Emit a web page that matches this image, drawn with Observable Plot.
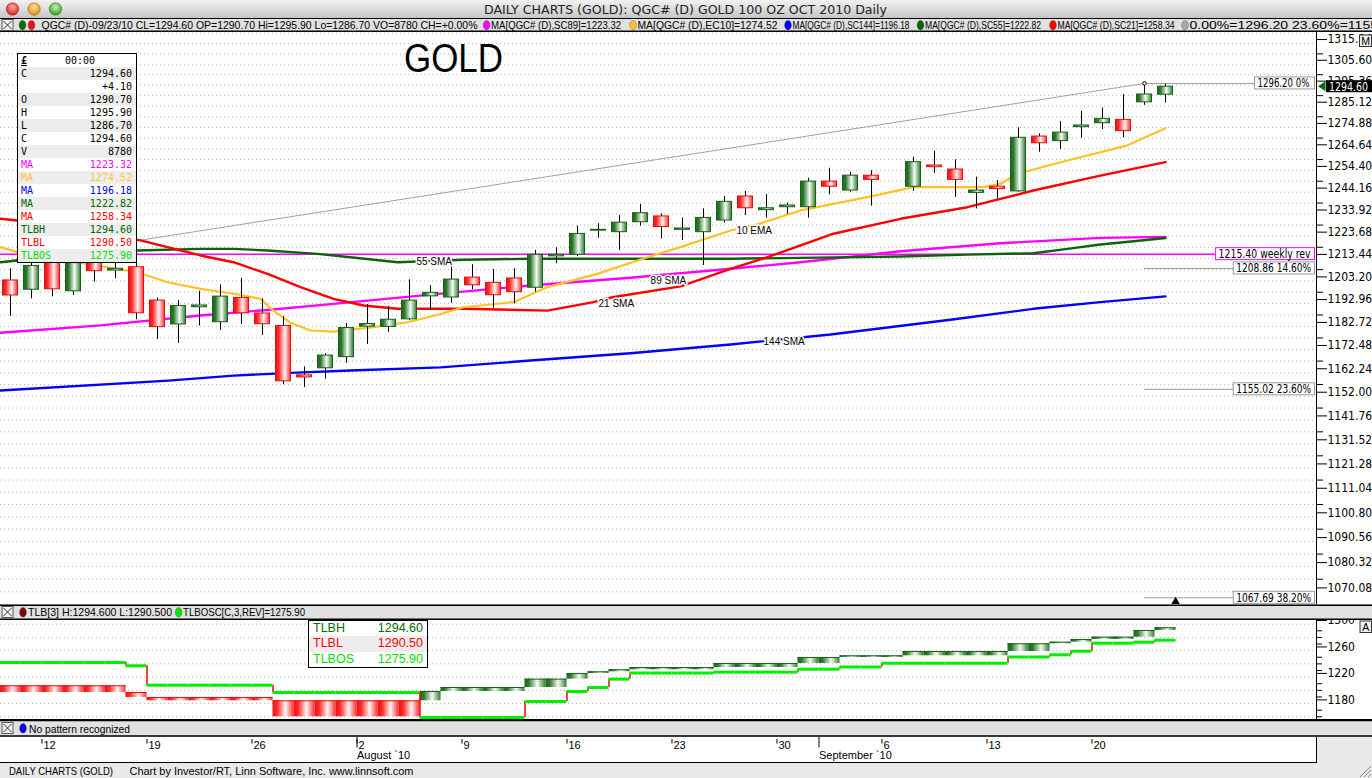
<!DOCTYPE html>
<html>
<head>
<meta charset="utf-8">
<title>DAILY CHARTS (GOLD)</title>
<script src="https://cdn.jsdelivr.net/npm/d3@7"></script>
<script src="https://cdn.jsdelivr.net/npm/@observablehq/plot@0.6"></script>
<style>
html,body{margin:0;padding:0}
body{width:1372px;height:778px;position:relative;overflow:hidden;background:#e9e9e9;font-family:"Liberation Sans",Arial,sans-serif}
.abs{position:absolute;left:0}
.abs svg{display:block}
#databox{position:absolute;left:17px;top:53px;width:118px;border:1px solid #000;background:#fff;font-family:"DejaVu Sans Mono",monospace;font-size:10px;color:#000}
#databox .r{position:relative;height:13px;line-height:13px;white-space:nowrap}
#databox .g{background:#ededed}
#databox .l{position:absolute;left:3px}
#databox .v{position:absolute;right:4px}
#tlbbox{position:absolute;left:308px;top:620px;width:118px;border:1px solid #000;background:#fff;font-family:"Liberation Sans",Arial,sans-serif;font-size:12.5px}
#tlbbox .r{position:relative;height:15.4px;line-height:15.4px}
#tlbbox .g{background:#ededed}
#tlbbox .l{position:absolute;left:4px}
#tlbbox .v{position:absolute;right:4px}
</style>
</head>
<body>
<div id="main" class="abs" style="top:31px"></div>
<div id="tlb" class="abs" style="top:619px"></div>
<div id="dates" class="abs" style="top:737px"></div>
<div id="chrome" class="abs" style="top:0"></div>
<div id="databox"></div>
<div id="tlbbox"></div>
<script>
// ================= DATA =================
const dates = ["07/08","07/09","07/12","07/13","07/14","07/15","07/16","07/19","07/20","07/21","07/22","07/23","07/26","07/27","07/28","07/29","07/30","08/02","08/03","08/04","08/05","08/06","08/09","08/10","08/11","08/12","08/13","08/16","08/17","08/18","08/19","08/20","08/23","08/24","08/25","08/26","08/27","08/30","08/31","09/01","09/02","09/03","09/06","09/07","09/08","09/09","09/10","09/13","09/14","09/15","09/16","09/17","09/20","09/21","09/22","09/23"];
const open  = [1203.4,1199.2,1215.0,1198.5,1216.0,1207.9,1209.4,1194.3,1183.6,1191.3,1184.6,1195.5,1188.5,1182.9,1161.1,1164.2,1169.1,1182.6,1182.5,1185.9,1196.2,1195.7,1204.7,1202.3,1204.3,1200.1,1214.4,1215.1,1226.2,1225.5,1230.1,1232.8,1226.6,1225.5,1230.9,1242.1,1235.7,1237.1,1237.1,1249.1,1244.9,1251.9,null,1246.7,1256.7,1254.8,1243.8,1246.7,1244.5,1270.5,1268.3,1275.0,1276.9,1278.5,1287.0,1290.7];
const high  = [1208.7,1213.0,1218.0,1216.0,1219.0,1213.0,1212.0,1195.4,1194.3,1198.5,1201.4,1204.4,1195.1,1187.1,1164.8,1170.6,1184.1,1192.5,1191.6,1203.7,1201.1,1212.5,1210.6,1208.4,1208.7,1217.1,1218.3,1228.3,1229.4,1233.2,1238.4,1234.0,1232.1,1236.3,1242.1,1244.5,1243.0,1239.0,1250.7,1255.4,1253.5,1254.3,null,1260.7,1263.5,1259.4,1251.2,1249.6,1274.7,1271.8,1277.7,1282.6,1284.2,1290.8,1296.2,1295.9];
const low   = [1187.2,1195.1,1196.0,1196.6,1202.6,1204.2,1185.7,1176.9,1175.2,1182.9,1180.9,1183.6,1178.7,1157.0,1155.8,1159.4,1166.4,1174.7,1180.1,1185.4,1189.8,1193.1,1199.2,1190.9,1192.8,1198.1,1211.0,1214.3,1222.7,1217.1,1228.3,1222.4,1221.7,1210.2,1229.7,1233.2,1232.0,1233.7,1232.0,1242.9,1244.1,1237.6,null,1244.5,1253.0,1241.7,1236.3,1241.0,1244.1,1263.0,1264.3,1269.7,1273.9,1269.9,1285.5,1286.7];
const close = [1196.6,1210.0,1199.4,1211.3,1207.6,1208.7,1188.6,1182.4,1191.9,1192.1,1196.1,1188.6,1183.7,1158.5,1160.2,1169.8,1182.0,1183.8,1185.7,1194.3,1197.8,1203.8,1201.2,1196.7,1198.1,1215.1,1215.1,1224.7,1226.6,1229.9,1234.3,1227.9,1227.2,1232.1,1239.6,1236.6,1236.6,1237.9,1249.1,1246.7,1251.9,1249.9,null,1258.3,1255.9,1249.9,1244.9,1245.6,1269.9,1267.3,1272.4,1275.8,1279.0,1273.1,1290.8,1294.6];

// moving averages: [slot index, value]
const sma21  = [[-0.48,1231.7],[1.10,1230.1],[4.29,1224.8],[6.19,1221.7],[9.05,1214.8],[10.62,1211.7],[12.24,1206.4],[13.81,1200.4],[15.38,1195.1],[16.81,1192.1],[18.43,1190.6],[21.57,1190.6],[25.57,1189.8],[27.76,1193.6],[28.67,1195.8],[31.90,1200.7],[34.29,1208.7],[36.05,1214.0],[39.19,1224.8],[42.38,1231.7],[45.57,1237.1],[48.71,1244.9],[51.90,1251.9],[55,1258.34]];
const ema10  = [[-0.48,1218.6],[0.33,1216.3],[6.05,1207.1],[7.48,1202.6],[9.05,1199.6],[10.62,1197.4],[11.90,1195.1],[12.52,1189.8],[13.33,1184.4],[14.29,1180.9],[15.38,1180.4],[17.29,1182.4],[18.90,1184.6],[20.48,1188.3],[21.57,1191.3],[23.95,1193.6],[25.57,1200.4],[27.95,1206.4],[30.33,1214.0],[31.90,1218.6],[34.29,1226.3],[35.57,1229.1],[37.62,1235.6],[40.81,1241.8],[43.0,1246.5],[46.33,1246.5],[47.14,1248.0],[47.95,1252.8],[50.33,1259.1],[53.19,1266.3],[55,1274.52]];
const sma89  = [[-0.48,1179.9],[4.29,1183.2],[9.05,1187.6],[12.24,1190.1],[15.38,1192.8],[20.0,1197.0],[24.76,1201.1],[29.52,1204.6],[34.29,1208.7],[37.62,1211.7],[42.38,1216.7],[47.14,1220.4],[51.90,1222.9],[55,1223.32]];
const sma55  = [[-0.48,1211.7],[0.33,1212.5],[6.05,1217.1],[9.05,1217.8],[10.62,1217.8],[12.24,1217.1],[14.62,1215.5],[16.19,1214.0],[18.43,1211.7],[21.57,1212.8],[24.76,1213.3],[34.29,1213.3],[37.62,1213.7],[42.38,1214.3],[45.57,1215.2],[48.71,1215.8],[50.33,1217.8],[51.90,1219.8],[53.48,1221.3],[55,1222.82]];
const sma144 = [[-0.48,1154.5],[7.52,1158.8],[10.62,1161.0],[13.33,1162.2],[16.19,1163.2],[20.48,1164.6],[24.76,1167.6],[29.52,1170.8],[34.29,1174.7],[39.05,1179.1],[44.76,1185.7],[48.71,1190.6],[51.90,1193.6],[55,1196.18]];
const trendLine = [[-0.48,1211.8],[54,1296.2]];
const weeklyRev = 1215.40;
const fibLevels = [1296.20,1208.86,1155.02,1067.69];
const fibPct    = ["0%","14.60%","23.60%","38.20%"];
const maLabels  = [
  {t:"10 EMA", i:34.57, v:1226.3},
  {t:"55 SMA", i:19.33, v:1212.0},
  {t:"89 SMA", i:30.48, v:1203.4},
  {t:"21 SMA", i:28.0,  v:1192.8},
  {t:"144 SMA", i:35.86, v:1176.0}
];

// Three Line Break bricks
const tlbStart = [0,6,7,13,20,21,25,27,28,29,30,34,38,40,43,48,50,51,52,54,55];
const tlbEnd   = [5,6,12,19,20,24,26,27,28,29,33,37,39,42,47,49,50,51,53,54,55];
const tlbFrom  = [1206.9,1196.7,1189.2,1184.2,1184.2,1198.3,1204.3,1216.9,1225.5,1228.0,1231.1,1234.5,1240.6,1249.7,1252.2,1258.7,1270.4,1272.8,1276.9,1280.4,1290.5];
const tlbTo    = [1196.7,1189.2,1184.2,1160.0,1198.3,1204.3,1216.9,1225.5,1228.0,1231.1,1234.5,1240.6,1249.7,1252.2,1258.7,1270.4,1272.8,1276.9,1280.4,1290.5,1294.6];
const tlbos    = [1242.1,1242.1,1242.1,1242.1,1242.1,1242.1,1237.1,1207.8,1207.8,1207.8,1207.8,1207.8,1207.8,1196.7,1196.7,1196.7,1196.7,1196.7,1196.7,1196.7,1158.9,1158.9,1158.9,1158.9,1158.9,1183.1,1183.1,1198.3,1204.3,1216.9,1226.2,1226.2,1226.2,1226.2,1227.5,1227.5,1227.5,1227.5,1232.0,1232.0,1235.3,1235.3,1241.0,1241.0,1241.0,1241.0,1241.0,1241.0,1250.4,1250.4,1253.7,1259.2,1271.3,1271.3,1272.8,1275.9];

// axes
const yTicks = [1070.08,1080.32,1090.56,1100.80,1111.04,1121.28,1131.52,1141.76,1152.00,1162.24,1172.48,1182.72,1192.96,1203.20,1213.44,1223.68,1233.92,1244.16,1254.40,1264.64,1274.88,1285.12,1295.36,1305.60,1315.84];
const tlbTicks = [1180,1220,1260,1300];
const tlbGrid  = [1160,1180,1200,1220,1240,1260,1280,1300];
const tlbMinor = [1160,1170,1190,1200,1210,1230,1240,1250,1270,1280,1290];
const weekTickIdx    = [2,7,12,17,22,27,32,37,42,47,52];
const weekTickLabels = ["12","19","26","2","9","16","23","30","6","13","20"];
const monthTickIdx   = [17,39];
const monthLabels    = ["August `10","September `10"];

// info panels
const boxLabels = ["C","","O","H","L","C","V","MA","MA","MA","MA","MA","TLBH","TLBL","TLBOS"];
const boxValues = ["1294.60","+4.10","1290.70","1295.90","1286.70","1294.60","8780","1223.32","1274.52","1196.18","1222.82","1258.34","1294.60","1290.50","1275.90"];
const boxColors = ["#000","#000","#000","#000","#000","#000","#000","#ff00ff","#ffc43a","#0000ff","#006400","#ff0000","#006400","#ff0000","#00e000"];
const tlbLabels = ["TLBH","TLBL","TLBOS"];
const tlbValues = ["1294.60","1290.50","1275.90"];
const tlbColors = ["#007000","#ff0000","#00e000"];
const lastPrice = 1294.60;

// ================= BUILD =================
const xDomain = [-0.4762, 62.1905];
const FONT = '"Liberation Sans Narrow","DejaVu Sans Condensed","Liberation Sans",Arial,sans-serif';
const NS = "http://www.w3.org/2000/svg";

function addGrad(svgEl, id, stops){
  let defs = svgEl.querySelector("defs");
  if(!defs){ defs = document.createElementNS(NS,"defs"); svgEl.insertBefore(defs, svgEl.firstChild); }
  const g = document.createElementNS(NS,"linearGradient");
  g.setAttribute("id",id); g.setAttribute("x1","0"); g.setAttribute("y1","0"); g.setAttribute("x2","1"); g.setAttribute("y2","0");
  for(const [o,c] of stops){ const s=document.createElementNS(NS,"stop"); s.setAttribute("offset",o); s.setAttribute("stop-color",c); g.appendChild(s); }
  defs.appendChild(g);
}
const redStops   = [[0,"#e41616"],[0.22,"#ff2a2a"],[0.62,"#fff4f4"],[1,"#ff3030"]];
const greenStops = [[0,"#1c661c"],[0.2,"#2b7a2b"],[0.6,"#f6fbf6"],[1,"#2f7f2f"]];

const candles = [];
open.forEach((o,i)=>{ if(o!=null) candles.push({i, date:dates[i], o, h:high[i], l:low[i], c:close[i]}); });
const upC = candles.filter(d=>d.c>=d.o), dnC = candles.filter(d=>d.c<d.o);
const HB = 0.357;
const minorTicks = yTicks.map(t=>+(t+5.12).toFixed(2));
const gridVals = yTicks.concat(minorTicks);
const P = a => a.map(([x,y])=>({x,y}));

const main = Plot.plot({
  width:1372, height:573, marginLeft:0, marginRight:56, marginTop:0, marginBottom:0,
  x:{domain:xDomain, axis:null},
  y:{type:"log", domain:[1065.0,1321.83], axis:null},
  style:{fontFamily:FONT, fontSize:"12px", background:"#fff", color:"#000"},
  marks:[
    Plot.ruleY(gridVals,{stroke:"#b4b4b4", strokeDasharray:"1,3"}),
    Plot.line(P(trendLine),{x:"x", y:"y", stroke:"#a0a0a0", strokeWidth:1}),
    Plot.ruleY([weeklyRev],{x1:xDomain[0], x2:57.41, stroke:"#ff00ff", strokeWidth:1.5}),
    Plot.ruleY(fibLevels,{x1:54, x2:(d,k)=> k===0 ? 59.26 : 58.25, stroke:"#9a9a9a", strokeWidth:1}),
    Plot.line(P(sma144),{x:"x", y:"y", stroke:"#0000ff", strokeWidth:2.4}),
    Plot.line(P(sma89), {x:"x", y:"y", stroke:"#ff00ff", strokeWidth:2.4}),
    Plot.line(P(sma55), {x:"x", y:"y", stroke:"#0a640a", strokeWidth:2.4}),
    Plot.line(P(sma21), {x:"x", y:"y", stroke:"#ff0000", strokeWidth:2.4}),
    Plot.line(P(ema10), {x:"x", y:"y", stroke:"#ffc125", strokeWidth:2.2}),
    Plot.ruleX(candles,{x:"i", y1:"l", y2:"h", stroke:"#000", strokeWidth:1}),
    Plot.rect(upC,{x1:d=>d.i-HB, x2:d=>d.i+HB, y1:"o", y2:"c", fill:"url(#gUp)", stroke:"#1c5e1c", strokeWidth:1}),
    Plot.rect(dnC,{x1:d=>d.i-HB, x2:d=>d.i+HB, y1:"o", y2:"c", fill:"url(#gDn)", stroke:"#e01010", strokeWidth:1}),
    Plot.dot([{i:54, v:1296.2}],{x:"i", y:"v", r:1.8, stroke:"#000", fill:"#fff", strokeWidth:1}),
    Plot.dot([{i:55.48, v:1065.9}],{x:"i", y:"v", symbol:"triangle", r:3.6, fill:"#000"}),
    Plot.text(maLabels,{x:"i", y:"v", text:"t", textAnchor:"start", fontSize:10, fontFamily:"Liberation Sans, Arial, sans-serif", fill:"#000", stroke:"#fff", strokeWidth:3}),
    Plot.axisY({anchor:"right", ticks:yTicks, tickSize:10, tickPadding:1, tickFormat:d=>d.toFixed(2), dy:-4}),
    Plot.axisY({anchor:"right", ticks:minorTicks.filter(t=>t<1320), tickSize:6, tickFormat:()=>""}),
    Plot.ruleX([xDomain[1]],{stroke:"#000", strokeWidth:1})
  ]
});
addGrad(main,"gUp",greenStops); addGrad(main,"gDn",redStops);
document.getElementById("main").appendChild(main);

// tag boxes on the price pane, positioned through the plot's scales
(function(){
  const sx = main.scale("x"), sy = main.scale("y");
  const svg = d3.select(main);
  const xr = sx.apply(xDomain[1]);
  function tag(val, label, left, stroke, len){
    const y = sy.apply(val);
    const g = svg.append("g").attr("text-anchor","start");
    g.append("rect").attr("x",left).attr("y",y-6).attr("width",xr-1.5-left).attr("height",12).attr("fill","#fff").attr("stroke",stroke).attr("stroke-width",1);
    g.append("text").attr("x",left+3).attr("y",y+4.2).attr("text-anchor","start").attr("font-size",11.5).attr("font-family",FONT).attr("textLength",len).attr("lengthAdjust","spacingAndGlyphs").text(label);
  }
  tag(fibLevels[0], fibLevels[0].toFixed(2)+" "+fibPct[0], sx.apply(59.26), "#9a9a9a", 52);
  tag(weeklyRev, weeklyRev.toFixed(2)+" weekly rev", sx.apply(57.41), "#ff00ff", 92);
  for(let k=1;k<fibLevels.length;k++) tag(fibLevels[k], fibLevels[k].toFixed(2)+" "+fibPct[k], sx.apply(58.25), "#9a9a9a", 75);
  // last price tag on the axis
  const yp = sy.apply(lastPrice);
  svg.append("polygon").attr("points",`${xr+2},${yp} ${xr+9.5},${yp-5} ${xr+9.5},${yp+5}`).attr("fill","#0c6a0c");
  svg.append("rect").attr("x",xr+10).attr("y",yp-6).attr("width",46).attr("height",12).attr("fill","#000");
  svg.append("text").attr("x",xr+13).attr("y",yp+4.3).attr("text-anchor","start").attr("fill","#fff").attr("font-size",12).attr("font-family",FONT).attr("textLength",39).attr("lengthAdjust","spacingAndGlyphs").text(lastPrice.toFixed(2));
})();

// ---------- TLB pane ----------
const tlbDays = [];
tlbStart.forEach((s,k)=>{ for(let i=s;i<=tlbEnd[k];i++) tlbDays.push({i, from:tlbFrom[k], to:tlbTo[k], up:tlbTo[k]>tlbFrom[k]}); });
const tlbosDays = tlbos.map((v,i)=>({i,v}));
const tlbosSteps = tlbos.map((v,i)=>({i, a: i ? tlbos[i-1] : v, b: v})).filter(d=>d.a!==d.b);

const tlb = Plot.plot({
  width:1372, height:100, marginLeft:0, marginRight:56, marginTop:0, marginBottom:0,
  x:{domain:xDomain, axis:null},
  y:{domain:[1155.9,1307.1], axis:null},
  style:{fontFamily:FONT, fontSize:"12px", background:"#fff", color:"#000"},
  marks:[
    Plot.ruleY(tlbGrid,{stroke:"#b4b4b4", strokeDasharray:"1,3"}),
    Plot.rect(tlbDays.filter(d=>!d.up),{x1:d=>d.i-0.5, x2:d=>d.i+0.5, y1:"from", y2:"to", fill:"url(#tDn)"}),
    Plot.rect(tlbDays.filter(d=>d.up),{x1:d=>d.i-0.5, x2:d=>d.i+0.5, y1:"from", y2:"to", fill:"url(#tUp)"}),
    Plot.ruleY(tlbDays.filter(d=>!d.up),{y:"from", x1:d=>d.i-0.5, x2:d=>d.i+0.5, stroke:"#e01010", strokeWidth:1}),
    Plot.ruleY(tlbDays.filter(d=>d.up),{y:"to", x1:d=>d.i-0.5, x2:d=>d.i+0.5, stroke:"#1c5e1c", strokeWidth:1}),
    Plot.ruleX(tlbosSteps,{x:d=>d.i-0.5, y1:"a", y2:"b", stroke:"#ff0000", strokeWidth:1.5}),
    Plot.ruleY(tlbosDays,{y:"v", x1:d=>d.i-0.5, x2:d=>d.i+0.5, stroke:"#00ee00", strokeWidth:3}),
    Plot.axisY({anchor:"right", ticks:tlbTicks, tickSize:10, tickPadding:1, tickFormat:d=>String(d), dy:-3.7}),
    Plot.axisY({anchor:"right", ticks:tlbMinor, tickSize:5, tickFormat:()=>""}),
    Plot.ruleX([xDomain[1]],{stroke:"#000", strokeWidth:1})
  ]
});
addGrad(tlb,"tUp",greenStops); addGrad(tlb,"tDn",redStops);
document.getElementById("tlb").appendChild(tlb);

// ---------- date axis ----------
const dateAxis = Plot.plot({
  width:1316, height:25, margin:0,
  x:{domain:xDomain, axis:null},
  y:{domain:[0,25], range:[0,25], axis:null},
  style:{fontFamily:"Liberation Sans, Arial, sans-serif", fontSize:"11px", background:"#fff", color:"#000"},
  marks:[
    Plot.ruleX(weekTickIdx,{x:d=>d-0.5, y1:2, y2:6.5, stroke:"#000"}),
    Plot.text(weekTickIdx,{x:d=>d-0.5, y:11.5, text:(d,k)=>weekTickLabels[k], textAnchor:"start", lineAnchor:"bottom", dx:1.5}),
    Plot.ruleX(monthTickIdx,{x:d=>d-0.5, y1:0, y2:10.5, stroke:"#000"}),
    Plot.text(monthTickIdx,{x:d=>d-0.5, y:21.5, text:(d,k)=>monthLabels[k], textAnchor:"start", lineAnchor:"bottom", dx:0})
  ]
});
dateAxis.style.borderRight = "1.5px solid #000";
dateAxis.style.borderBottom = "1.5px solid #000";
dateAxis.style.boxSizing = "content-box";
document.getElementById("dates").appendChild(dateAxis);

// ---------- window chrome ----------
function T(x,y,s,o={}){
  const len = o.len ? ` textLength="${o.len}" lengthAdjust="spacingAndGlyphs"` : "";
  return `<text x="${x}" y="${y}" font-size="${o.size||10.5}" fill="${o.fill||'#000'}" font-family="${o.font||'Liberation Sans, Arial, sans-serif'}"${o.anchor?` text-anchor="${o.anchor}"`:""}${len}>${s}</text>`;
}
function xbox(y){ return `<rect x="2" y="${y}" width="11" height="11" fill="#f2f2f2" stroke="#555"/><path d="M3.5 ${y+1.5} L11.5 ${y+9.5} M11.5 ${y+1.5} L3.5 ${y+9.5}" stroke="#333" stroke-width="1"/>`; }
function dot(x,y,c){ return `<ellipse cx="${x}" cy="${y}" rx="3.4" ry="4.8" fill="${c}" stroke="rgba(0,0,0,0.35)" stroke-width="0.6"/>`; }
const legendItems = [
  {dot:"#ff00ff", x:486.6, text:"MA[QGC# (D),SC89]=1223.32", len:130},
  {dot:"#ffc125", x:633, text:"MA[QGC# (D),EC10]=1274.52", len:140},
  {dot:"#0000ff", x:788, text:"MA[QGC# (D),SC144]=1196.18", len:117},
  {dot:"#0a640a", x:920.5, text:"MA[QGC# (D),SC55]=1222.82", len:116},
  {dot:"#ff0000", x:1053, text:"MA[QGC# (D),SC21]=1258.34", len:117},
  {dot:"#a8a8a8", x:1185, text:"0.00%=1296.20 23.60%=1155.02", len:208}
];
let ch = `<svg xmlns="${NS}" width="1372" height="778" style="position:absolute;left:0;top:0">
<defs><linearGradient id="tbg" x1="0" y1="0" x2="0" y2="1"><stop offset="0" stop-color="#f2f2f2"/><stop offset="1" stop-color="#c6c6c6"/></linearGradient>
<radialGradient id="lr" cx="0.5" cy="0.35" r="0.6"><stop offset="0" stop-color="#ffb3a8"/><stop offset="1" stop-color="#d9261c"/></radialGradient>
<radialGradient id="ly" cx="0.5" cy="0.35" r="0.6"><stop offset="0" stop-color="#ffe2a0"/><stop offset="1" stop-color="#e2901a"/></radialGradient>
<radialGradient id="lg" cx="0.5" cy="0.35" r="0.6"><stop offset="0" stop-color="#c9f5b0"/><stop offset="1" stop-color="#3aa12a"/></radialGradient>
<clipPath id="tbclip"><rect x="0" y="18" width="1372" height="14"/></clipPath></defs>
<rect x="0" y="0" width="1372" height="18" fill="url(#tbg)"/>
<circle cx="12.5" cy="9" r="6.2" fill="url(#lr)" stroke="#9a2018" stroke-width="0.6"/>
<circle cx="34" cy="9" r="6.2" fill="url(#ly)" stroke="#a36a12" stroke-width="0.6"/>
<circle cx="55.5" cy="9" r="6.2" fill="url(#lg)" stroke="#2a7a1e" stroke-width="0.6"/>
${T(484,13.5,"DAILY CHARTS (GOLD): QGC# (D) GOLD 100 OZ OCT 2010 Daily",{size:13,len:403,fill:"#222",font:"DejaVu Sans, Liberation Sans, sans-serif"})}
<rect x="0" y="18" width="1372" height="14" fill="#e1e1e1"/>
<line x1="0" x2="1372" y1="18.5" y2="18.5" stroke="#000"/>
<line x1="0" x2="1372" y1="31.3" y2="31.3" stroke="#000" stroke-width="1.5"/>
${xbox(19.5)}
${dot(22.5,25.2,"#0b6e0b")}${dot(31.5,25.2,"#e8141b")}
<g clip-path="url(#tbclip)">
${T(41.5,29.3,"QGC# (D)-09/23/10 CL=1294.60 OP=1290.70 Hi=1295.90 Lo=1286.70 VO=8780 CH=+0.00%",{len:436})}
${legendItems.map(d=>dot(d.x,25.2,d.dot)+T(d.x+4.5,29.3,d.text,{len:d.len})).join("")}
</g>
<rect x="0" y="604.5" width="1372" height="15" fill="#e1e1e1"/>
<line x1="0" x2="1372" y1="605.2" y2="605.2" stroke="#000" stroke-width="1.5"/>
<line x1="0" x2="1372" y1="619.2" y2="619.2" stroke="#000" stroke-width="1.5"/>
${xbox(606.5)}
${dot(23,612.3,"#7a0a0a")}
${T(28,616.4,"TLB[3] H:1294.600 L:1290.500",{len:144})}
${dot(178.6,612.3,"#10e010")}
${T(183,616.4,"TLBOSC[C,3,REV]=1275.90",{len:122})}
<rect x="0" y="719" width="1372" height="18" fill="#e1e1e1"/>
<line x1="0" x2="1372" y1="720.2" y2="720.2" stroke="#000" stroke-width="2.2"/>
<line x1="0" x2="1372" y1="736" y2="736" stroke="#000" stroke-width="1.5"/>
${xbox(722.5)}
${dot(23,728.3,"#0000ee")}
${T(29,732.5,"No pattern recognized",{len:101})}
<rect x="1359.5" y="35" width="12" height="11.5" fill="#f0f0f0" stroke="#333"/>
${T(1365.5,44.5,"M",{size:10.5,anchor:"middle"})}
<rect x="1360" y="621" width="11.5" height="11.5" fill="#f0f0f0" stroke="#333"/>
${T(1365.7,630.5,"A",{size:10.5,anchor:"middle"})}
${T(453.5,72,"GOLD",{size:40,len:99,anchor:"middle"})}
${T(9,774.5,"DAILY CHARTS (GOLD)",{size:11,len:104})}
${T(129.5,774.5,"Chart by Investor/RT, Linn Software, Inc. www.linnsoft.com",{size:10.5,len:284})}
<path d="M1360 777 L1371 766 M1364 777 L1371 770 M1368 777 L1371 774" stroke="#888" stroke-width="1"/>
</svg>`;
document.getElementById("chrome").innerHTML = ch;

// ---------- info boxes ----------
const db = document.getElementById("databox");
let h = `<div class="r" style="text-align:center"><span class="l" style="text-decoration:underline;font-weight:bold">£</span><span style="position:absolute;left:47px">00:00</span></div>`;
boxLabels.forEach((l,k)=>{
  h += `<div class="r${k%2===0?' g':''}" style="color:${boxColors[k]}"><span class="l">${l}</span><span class="v">${boxValues[k]}</span></div>`;
});
db.innerHTML = h;
const tb = document.getElementById("tlbbox");
tb.innerHTML = tlbLabels.map((l,k)=>`<div class="r${k===1?' g':''}" style="color:${tlbColors[k]}"><span class="l">${l}</span><span class="v">${tlbValues[k]}</span></div>`).join("");
</script>
</body>
</html>
